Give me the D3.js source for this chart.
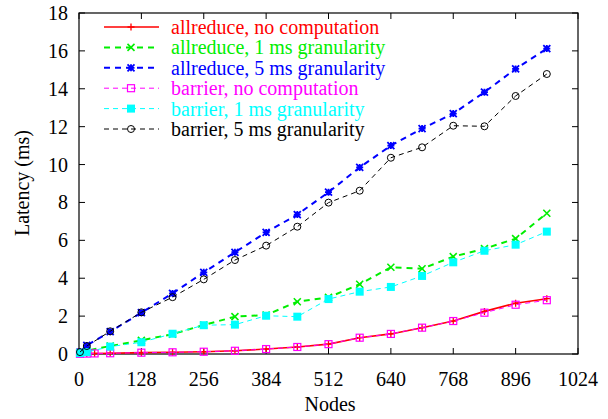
<!DOCTYPE html>
<html><head><meta charset="utf-8">
<script src="https://cdn.jsdelivr.net/npm/d3@7"></script>
<style>
svg#c text { font-family: "Liberation Serif", "Times New Roman", Tinos, Times, serif !important; font-size: 20px !important; }
</style>
</head><body style="margin:0">
<svg id="c" width="608" height="419" font-family="Liberation Serif"></svg>
<script>
const nodes = [2,16,32,64,128,192,256,320,384,448,512,576,640,704,768,832,896,960];
const allreduceNoComp = [0.01,0.02,0.03,0.04,0.07,0.09,0.12,0.17,0.26,0.37,0.52,0.86,1.06,1.39,1.74,2.25,2.68,2.92];
const allreduce1ms    = [0.05,0.18,null,0.42,0.72,1.05,1.53,1.97,2.06,2.76,2.99,3.68,4.58,4.5,5.14,5.56,6.09,7.43];
const allreduce5ms    = [0.1,0.45,null,1.18,2.18,3.2,4.31,5.37,6.42,7.36,8.54,9.85,11.0,11.9,12.69,13.82,15.05,16.12];
const barrierNoComp   = [0.01,0.02,0.03,0.04,0.07,0.09,0.12,0.17,0.26,0.37,0.52,0.86,1.06,1.39,1.74,2.18,2.6,2.84];
const barrier1ms      = [0.05,0.1,null,0.39,0.62,1.07,1.52,1.55,2.02,1.97,2.9,3.29,3.54,4.12,4.84,5.45,5.77,6.46];
const barrier5ms      = [0.1,0.42,null,1.2,2.2,3.0,3.94,4.96,5.72,6.72,7.99,8.62,10.36,10.91,12.05,12.02,13.62,14.78];
const seriesNames = ["allreduce, no computation","allreduce, 1 ms granularity","allreduce, 5 ms granularity","barrier, no computation","barrier, 1 ms granularity","barrier, 5 ms granularity"];
const xTicks = [0,128,256,384,512,640,768,896,1024];
const yTicks = [0,2,4,6,8,10,12,14,16,18];

const FONT = '"Liberation Serif", "Times New Roman", Tinos, Times, serif';
const styles = [
  {color:"#ff0000", w:1.6, dash:null, marker:"plus"},
  {color:"#00ee00", w:2, dash:"6,5", marker:"cross"},
  {color:"#0000ff", w:2, dash:"6,5", marker:"star"},
  {color:"#ff00ff", w:1, dash:"5,4", marker:"osquare"},
  {color:"#00ffff", w:1, dash:"5,4", marker:"fsquare"},
  {color:"#000000", w:1, dash:"5,4", marker:"ocircle"}
];
const data = [allreduceNoComp, allreduce1ms, allreduce5ms, barrierNoComp, barrier1ms, barrier5ms];

const svg = d3.select("#c");
const L=79, R=578, T=13, B=354;
const x = d3.scaleLinear().domain([0,1024]).range([L,R]);
const y = d3.scaleLinear().domain([0,18]).range([B,T]);
const tl = 6;

function txt(sel){
  return sel.append("text")
    .attr("font-family","Liberation Serif").attr("font-size",20)
    .style("font-family",FONT,"important").style("font-size","20px","important");
}

const g = svg.append("g");
xTicks.forEach(t=>{
  g.append("line").attr("x1",x(t)).attr("x2",x(t)).attr("y1",B).attr("y2",B-tl).attr("stroke","#000");
  g.append("line").attr("x1",x(t)).attr("x2",x(t)).attr("y1",T).attr("y2",T+tl).attr("stroke","#000");
  txt(g).attr("x",x(t)).attr("y",B+32).attr("text-anchor","middle").text(t);
});
yTicks.forEach(t=>{
  g.append("line").attr("x1",L).attr("x2",L+tl).attr("y1",y(t)).attr("y2",y(t)).attr("stroke","#000");
  g.append("line").attr("x1",R).attr("x2",R-tl).attr("y1",y(t)).attr("y2",y(t)).attr("stroke","#000");
  txt(g).attr("x",L-11).attr("y",y(t)+7).attr("text-anchor","end").text(t);
});
g.append("rect").attr("x",L).attr("y",T).attr("width",R-L).attr("height",B-T).attr("fill","none").attr("stroke","#000").attr("stroke-width",1.2);

txt(svg).attr("x",330).attr("y",411).attr("text-anchor","middle").text("Nodes");
txt(svg).attr("transform","translate(29,183) rotate(-90)").attr("text-anchor","middle").text("Latency (ms)");

function marker(sel, type, cx, cy, color){
  const s=3.5;
  if(type==="plus"){
    sel.append("path").attr("d",`M${cx-s},${cy}H${cx+s}M${cx},${cy-s}V${cy+s}`).attr("stroke",color).attr("stroke-width",1.3);
  } else if(type==="cross"){
    sel.append("path").attr("d",`M${cx-s},${cy-s}L${cx+s},${cy+s}M${cx-s},${cy+s}L${cx+s},${cy-s}`).attr("stroke",color).attr("stroke-width",1.6);
  } else if(type==="star"){
    sel.append("path").attr("d",`M${cx-s},${cy-s}L${cx+s},${cy+s}M${cx-s},${cy+s}L${cx+s},${cy-s}M${cx-s},${cy}H${cx+s}M${cx},${cy-s}V${cy+s}`).attr("stroke",color).attr("stroke-width",1.8);
  } else if(type==="osquare"){
    sel.append("rect").attr("x",cx-s).attr("y",cy-s).attr("width",2*s).attr("height",2*s).attr("fill","none").attr("stroke",color).attr("stroke-width",1.2);
  } else if(type==="fsquare"){
    sel.append("rect").attr("x",cx-s-0.5).attr("y",cy-s-0.5).attr("width",2*s+1).attr("height",2*s+1).attr("fill",color);
  } else if(type==="ocircle"){
    sel.append("circle").attr("cx",cx).attr("cy",cy).attr("r",s).attr("fill","none").attr("stroke",color).attr("stroke-width",1);
  }
}

const line = d3.line().defined(d=>d[1]!=null).x(d=>x(d[0])).y(d=>y(d[1]));
data.forEach((vals,i)=>{
  const st=styles[i];
  const pts = nodes.map((n,j)=>[n,vals[j]]).filter(d=>d[1]!=null);
  const gs = svg.append("g");
  gs.append("path").datum(pts).attr("d",line).attr("fill","none").attr("stroke",st.color).attr("stroke-width",st.w).attr("stroke-dasharray",st.dash);
  pts.forEach(p=>marker(gs, st.marker, x(p[0]), y(p[1]), st.color));
});

const lg = svg.append("g");
seriesNames.forEach((nm,i)=>{
  const st=styles[i];
  const ly = 27 + i*20.4;
  lg.append("line").attr("x1",104).attr("x2",159).attr("y1",ly).attr("y2",ly).attr("stroke",st.color).attr("stroke-width",st.w).attr("stroke-dasharray",st.dash);
  marker(lg, st.marker, 131, ly, st.color);
  txt(lg).attr("x",171).attr("y",ly+7).attr("fill",st.color).text(nm);
});
</script>
</body></html>
